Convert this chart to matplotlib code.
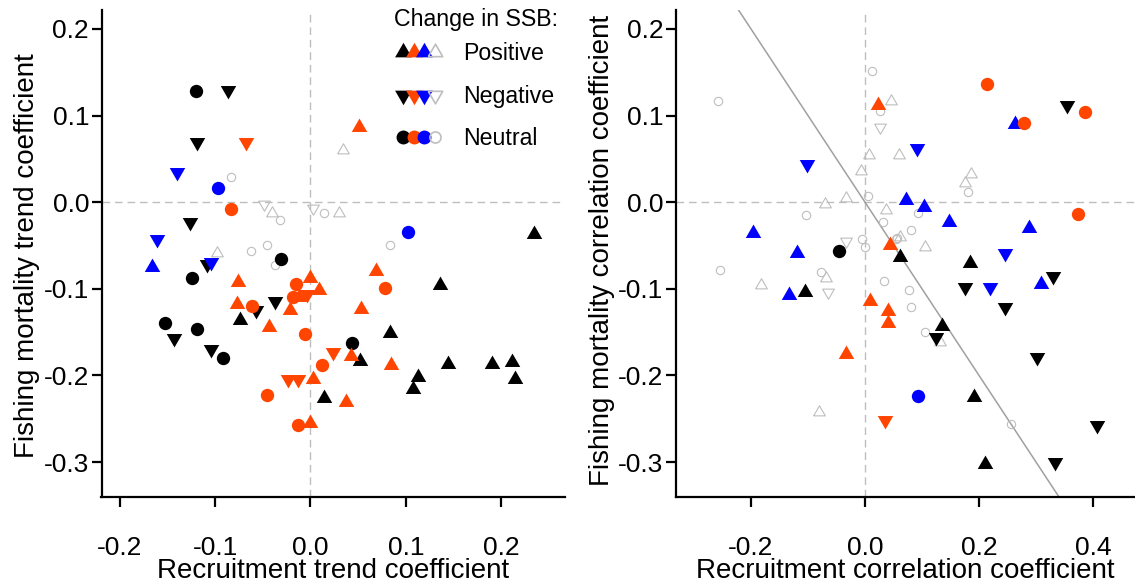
import matplotlib
matplotlib.use("Agg")
import matplotlib.pyplot as plt
from matplotlib.lines import Line2D
from matplotlib.legend_handler import HandlerTuple
from matplotlib.ticker import FormatStrFormatter, FixedLocator

plt.rcParams['font.family'] = ['Liberation Sans', 'DejaVu Sans']
plt.rcParams['axes.unicode_minus'] = False

# ---------------- data ----------------
# colour group: K = black, O = orange, B = blue, G = grey (open)
# SSB change: pos / neg / neu
trend_x = [
    -0.120, -0.087, -0.119, -0.126, -0.109, -0.031, -0.124, -0.037, -0.057, -0.074,
    -0.153, -0.119, -0.143, -0.104, -0.092, 0.014, 0.234, 0.136, 0.083, 0.043,
    0.052, 0.144, 0.190, 0.211, 0.214, 0.113, 0.107,
    -0.140, -0.097, -0.161, -0.166, -0.104, 0.102,
    -0.068, -0.083, 0.051, -0.076, -0.077, -0.061, -0.044, -0.022, -0.015, -0.000,
    0.009, -0.012, -0.018, -0.004, -0.006, -0.024, -0.013, 0.003, -0.046, -0.013,
    -0.001, 0.012, 0.069, 0.078, 0.053, 0.024, 0.042, 0.084, 0.037,
    -0.083, -0.049, -0.040, -0.032, 0.003, 0.014, 0.030, 0.034, -0.098, -0.062,
    -0.046, -0.037, 0.083,
]
trend_y = [
    0.128, 0.130, 0.070, -0.023, -0.071, -0.066, -0.087, -0.114, -0.124, -0.136,
    -0.139, -0.146, -0.157, -0.170, -0.180, -0.226, -0.037, -0.096, -0.151, -0.163,
    -0.183, -0.187, -0.187, -0.184, -0.204, -0.202, -0.216,
    0.035, 0.016, -0.043, -0.075, -0.069, -0.034,
    0.070, -0.008, 0.087, -0.092, -0.118, -0.120, -0.144, -0.125, -0.094, -0.088,
    -0.101, -0.110, -0.110, -0.106, -0.152, -0.204, -0.204, -0.204, -0.223, -0.257,
    -0.255, -0.188, -0.079, -0.099, -0.123, -0.173, -0.178, -0.188, -0.231,
    0.029, -0.002, -0.013, -0.020, -0.007, -0.012, -0.013, 0.060, -0.059, -0.056,
    -0.050, -0.072, -0.050,
]
trend_col = (['K'] * 27 + ['B'] * 6 + ['O'] * 29 + ['G'] * 13)
trend_ssb = [
    'neu', 'neg', 'neg', 'neg', 'neg', 'neu', 'neu', 'neg', 'neg', 'pos',
    'neu', 'neu', 'neg', 'neg', 'neu', 'pos', 'pos', 'pos', 'pos', 'neu',
    'pos', 'pos', 'pos', 'pos', 'pos', 'pos', 'pos',
    'neg', 'neu', 'neg', 'pos', 'neg', 'neu',
    'neg', 'neu', 'pos', 'pos', 'pos', 'neu', 'pos', 'pos', 'neu', 'pos',
    'pos', 'pos', 'neu', 'neg', 'neu', 'neg', 'neg', 'pos', 'neu', 'neu',
    'pos', 'neu', 'pos', 'neu', 'pos', 'neg', 'pos', 'pos', 'pos',
    'neu', 'neg', 'pos', 'neu', 'neg', 'neu', 'pos', 'pos', 'pos', 'neu',
    'neu', 'neu', 'neu',
]

corr_x = [
    -0.046, 0.062, -0.106, 0.184, 0.355, 0.330, 0.175, 0.245, 0.135, 0.124,
    0.301, 0.192, 0.407, 0.210, 0.333,
    0.264, -0.101, 0.091, 0.072, 0.104, 0.147, 0.288, -0.197, -0.120, 0.245,
    -0.134, 0.309, 0.220, 0.093,
    0.214, 0.386, 0.279, 0.023, 0.373, 0.044, 0.008, 0.041, 0.040, -0.033, 0.035,
    -0.258, 0.013, 0.045, 0.026, 0.026, 0.007, -0.007, 0.060, -0.033, 0.006,
    -0.071, -0.104, 0.036, 0.032, -0.034, -0.006, 0.000, 0.057, 0.186, 0.176,
    0.181, 0.093, 0.080, 0.062, 0.054, 0.106, -0.255, -0.182, -0.078, -0.069,
    -0.065, 0.034, 0.077, 0.080, 0.106, 0.131, -0.081, 0.257,
]
corr_y = [
    -0.056, -0.063, -0.104, -0.070, 0.112, -0.085, -0.098, -0.121, -0.143, -0.156,
    -0.179, -0.225, -0.257, -0.302, -0.300,
    0.090, 0.044, 0.063, 0.002, -0.005, -0.023, -0.030, -0.036, -0.059, -0.059,
    -0.107, -0.095, -0.098, -0.224,
    0.137, 0.104, 0.091, 0.112, -0.014, -0.050, -0.114, -0.126, -0.140, -0.175, -0.252,
    0.117, 0.151, 0.117, 0.105, 0.087, 0.054, 0.036, 0.054, 0.005, 0.007,
    -0.002, -0.015, -0.009, -0.023, -0.045, -0.043, -0.052, -0.041, 0.032, 0.022,
    0.012, -0.012, -0.032, -0.040, -0.042, -0.052, -0.078, -0.096, -0.081, -0.087,
    -0.104, -0.091, -0.101, -0.121, -0.150, -0.161, -0.242, -0.256,
]
corr_col = (['K'] * 15 + ['B'] * 14 + ['O'] * 11 + ['G'] * 38)
corr_ssb = [
    'neu', 'pos', 'pos', 'pos', 'neg', 'neg', 'neg', 'neg', 'pos', 'neg',
    'neg', 'pos', 'neg', 'pos', 'neg',
    'pos', 'neg', 'neg', 'pos', 'pos', 'pos', 'pos', 'pos', 'pos', 'neg',
    'pos', 'pos', 'neg', 'neu',
    'neu', 'neu', 'neu', 'pos', 'neu', 'pos', 'pos', 'pos', 'pos', 'pos', 'neg',
    'neu', 'neu', 'pos', 'neu', 'neg', 'pos', 'pos', 'pos', 'pos', 'neu',
    'pos', 'neu', 'pos', 'neu', 'neg', 'neu', 'neu', 'neu', 'pos', 'pos',
    'neu', 'neu', 'neu', 'pos', 'neu', 'pos', 'neu', 'pos', 'neu', 'pos',
    'neg', 'neu', 'neu', 'neu', 'neu', 'pos', 'pos', 'neu',
]

fit_intercept = 0.0
fit_slope = -1.0

ssb_labels = ['Positive', 'Negative', 'Neutral']
ticks_y = [-0.3, -0.2, -0.1, 0.0, 0.1, 0.2]
ticks_x_trend = [-0.2, -0.1, 0.0, 0.1, 0.2]
ticks_x_corr = [-0.2, 0.0, 0.2, 0.4]

# ---------------- style ----------------
colours = {'K': '#000000', 'O': '#FF4500', 'B': '#0000FF', 'G': '#BEBEBE'}
tri_up = [(-1, -0.577), (1, -0.577), (0, 1.155), (-1, -0.577)]
tri_dn = [(-1, 0.577), (1, 0.577), (0, -1.155), (-1, 0.577)]
markers = {'pos': tri_up, 'neg': tri_dn, 'neu': 'o'}
filled_size = {'pos': 12.9, 'neg': 12.9, 'neu': 9.6}
open_size = {'pos': 9.7, 'neg': 9.7, 'neu': 6.0}
draw_order = ['G', 'K', 'B', 'O']

W, H = 1135, 585
fig = plt.figure(figsize=(W / 100, H / 100), dpi=100)
ax1 = fig.add_axes([101.5 / W, 88 / H, 463.5 / W, 487 / H])
ax2 = fig.add_axes([676 / W, 88 / H, 459 / W, 487 / H])


def draw_points(ax, xs, ys, cols, ssbs):
    for z, c in enumerate(draw_order):
        for s in ['pos', 'neg', 'neu']:
            px = [x for x, cc, ss in zip(xs, cols, ssbs) if cc == c and ss == s]
            py = [y for y, cc, ss in zip(ys, cols, ssbs) if cc == c and ss == s]
            if not px:
                continue
            if c == 'G':
                ax.plot(px, py, ls='none', marker=markers[s], ms=open_size[s],
                        mfc='none', mec=colours[c], mew=0.8, zorder=3 + z)
            else:
                ax.plot(px, py, ls='none', marker=markers[s], ms=filled_size[s],
                        mfc=colours[c], mec='none', zorder=3 + z)


def style_axes(ax, xticks, xlim):
    ax.axhline(0, color='#BEBEBE', lw=1.0, ls=(0, (5.5, 3.5)), zorder=1)
    ax.axvline(0, color='#BEBEBE', lw=1.0, ls=(0, (5.5, 3.5)), zorder=1)
    for sp in ['top', 'right']:
        ax.spines[sp].set_visible(False)
    for sp in ['left', 'bottom']:
        ax.spines[sp].set_linewidth(1.6)
    ax.set_xlim(*xlim)
    ax.set_ylim(-0.3404, 0.2219)
    ax.xaxis.set_major_locator(FixedLocator(xticks))
    ax.yaxis.set_major_locator(FixedLocator(ticks_y))
    ax.xaxis.set_major_formatter(FormatStrFormatter('%.1f'))
    ax.yaxis.set_major_formatter(FormatStrFormatter('%.1f'))
    ax.tick_params(axis='both', direction='out', length=7, width=1.6, labelsize=19)
    ax.tick_params(axis='x', pad=21)
    ax.tick_params(axis='y', pad=2)


style_axes(ax1, ticks_x_trend, (-0.2191, 0.2668))
style_axes(ax2, ticks_x_corr, (-0.3316, 0.4737))

draw_points(ax1, trend_x, trend_y, trend_col, trend_ssb)
draw_points(ax2, corr_x, corr_y, corr_col, corr_ssb)

ax2.axline((0, fit_intercept), slope=fit_slope, color='#A0A0A0', lw=1.1, zorder=2)

ax1.set_xlabel('Recruitment trend coefficient', fontsize=20)
ax1.set_ylabel('Fishing mortality trend coefficient', fontsize=20)
ax2.set_xlabel('Recruitment correlation coefficient', fontsize=20)
ax2.set_ylabel('Fishing mortality correlation coefficient', fontsize=20)
ax1.xaxis.set_label_coords(0.5, -0.125)
ax2.xaxis.set_label_coords(0.5, -0.125)
ax1.yaxis.set_label_coords(-0.132, 0.495)
ax2.yaxis.set_label_coords(-0.133, 0.507)

# legend
handles = []
leg_sizes = {'pos': 14.0, 'neg': 14.0, 'neu': 10.0}
leg_open = {'pos': 12.0, 'neg': 12.0, 'neu': 8.0}
for s in ['pos', 'neg', 'neu']:
    group = []
    for c in ['K', 'O', 'B', 'G']:
        if c == 'G':
            group.append(Line2D([], [], ls='none', marker=markers[s], ms=leg_open[s],
                                mfc='none', mec=colours[c], mew=1.2))
        else:
            group.append(Line2D([], [], ls='none', marker=markers[s], ms=leg_sizes[s],
                                mfc=colours[c], mec='none'))
    handles.append(tuple(group))

leg = ax1.legend(handles=handles, labels=ssb_labels,
                 handler_map={tuple: HandlerTuple(ndivide=None, pad=0)},
                 title='Change in SSB:', loc='upper right', bbox_to_anchor=(0.9845, 1.004),
                 frameon=False, fontsize=16.7, title_fontsize=16.7, handlelength=1.84,
                 handletextpad=0.98, labelspacing=0.845, borderpad=0, borderaxespad=0,
                 numpoints=1)
leg._legend_box.sep = 8

fig.savefig('out.png', dpi=100)
